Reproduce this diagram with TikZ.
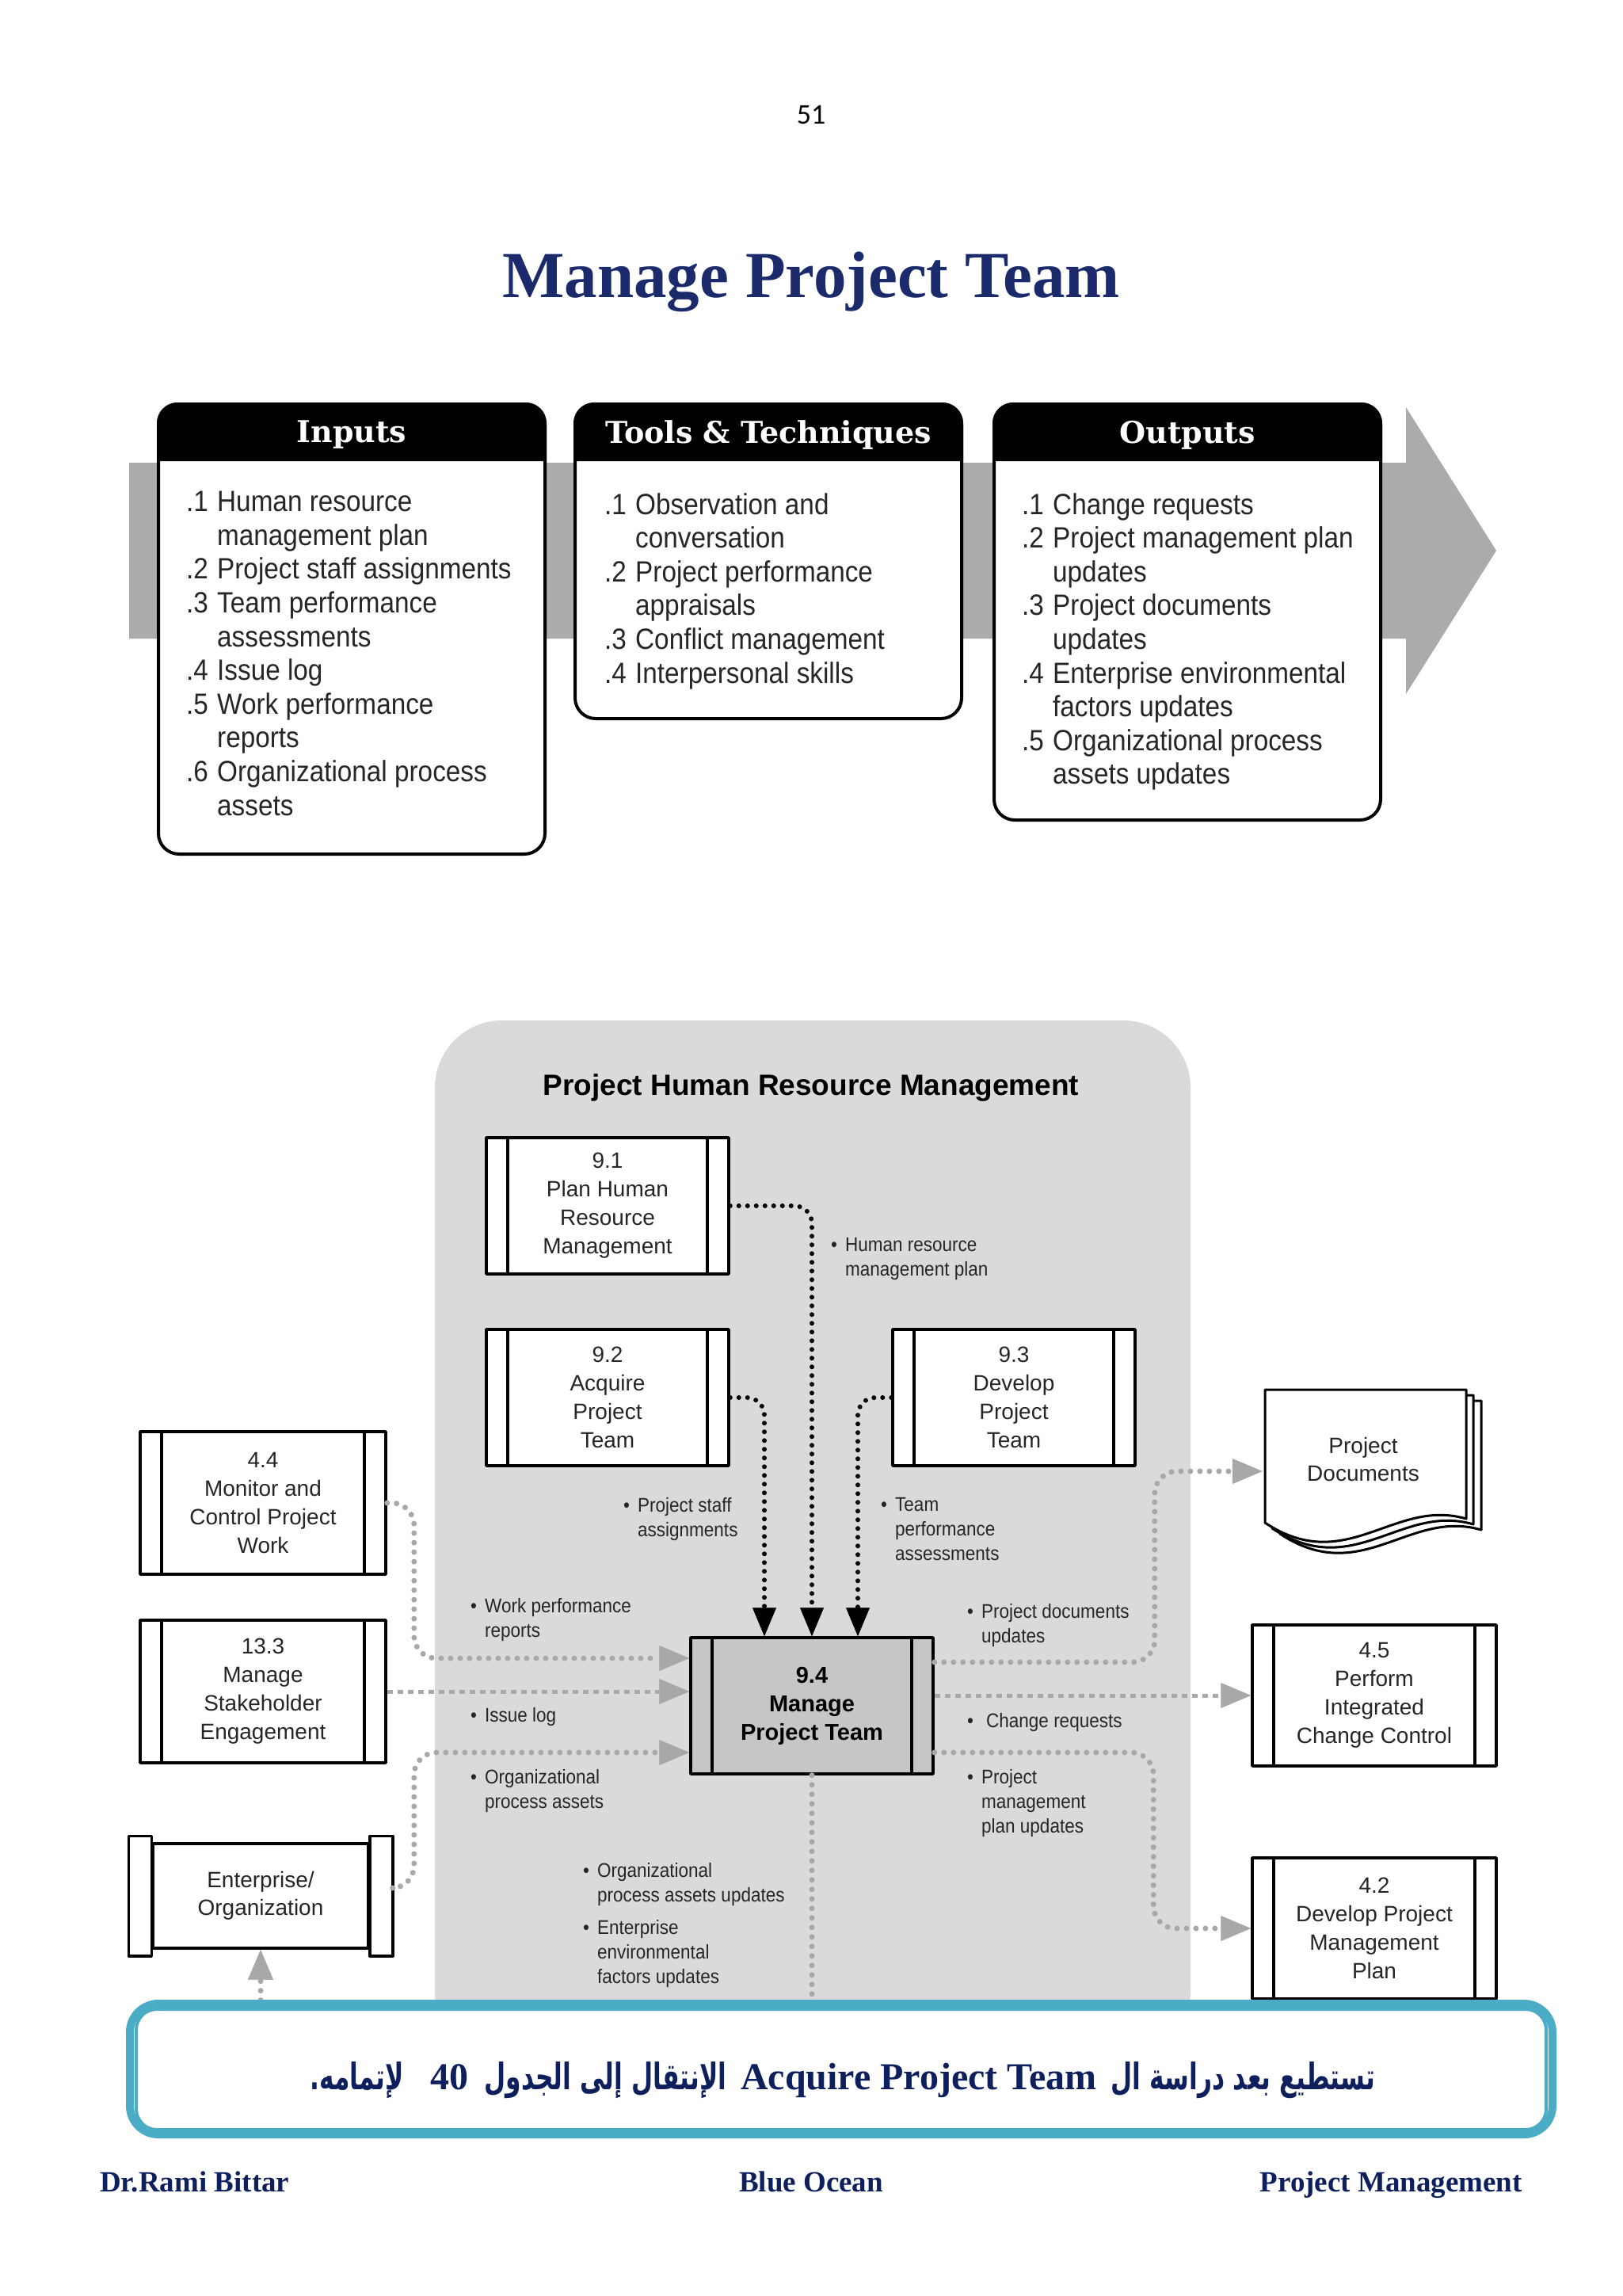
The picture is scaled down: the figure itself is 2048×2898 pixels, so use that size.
\documentclass[tikz,border=0pt]{standalone}
\usepackage{fontspec}
\setmainfont{Liberation Serif}
\newfontfamily\sansf{Liberation Sans}
\newfontfamily\condf[FakeStretch=0.9]{Liberation Sans}
\newfontfamily\slabf{DejaVu Serif}
\newfontfamily\arabicf[Script=Arabic,FakeStretch=0.68]{DejaVu Sans}
\newfontfamily\pagef{Carlito}
\TeXXeTstate=1
\usetikzlibrary{arrows.meta}
\definecolor{navy}{HTML}{1B2A6B}
\definecolor{navyb}{HTML}{0E1F5E}
\definecolor{bandgray}{HTML}{ABABAB}
\definecolor{panelgray}{HTML}{DADADA}
\definecolor{boxgray}{HTML}{C6C6C6}
\definecolor{linkgray}{HTML}{A8A8A8}
\definecolor{bannerblue}{HTML}{4BACC6}
\definecolor{txt}{HTML}{262626}
\newcommand\bul{\makebox[18pt][l]{•}}
\newcommand\myind{\hspace*{18pt}}
\newcommand\nm[1]{\makebox[39pt][l]{#1}}
\newcommand\cont{\hspace*{39pt}}
\begin{document}
\begin{tikzpicture}[x=1pt,y=-1pt,line join=round,
  procbox/.style={draw=black, line width=3.5pt, fill=white, minimum width=306pt, minimum height=172pt,
    inner sep=0pt, align=center, font=\sansf\fontsize{28}{36}\selectfont, text=txt,
    path picture={
      \draw[line width=3.5pt] ([xshift=27pt]path picture bounding box.north west) -- ([xshift=27pt]path picture bounding box.south west);
      \draw[line width=3.5pt] ([xshift=-27pt]path picture bounding box.north east) -- ([xshift=-27pt]path picture bounding box.south east);}},
  ittobox/.style={draw=black, line width=4pt, rounded corners=26pt, fill=white, inner sep=0pt},
  hdr/.style={font=\slabf\bfseries\fontsize{38}{42}\selectfont, text=white, inner sep=0pt},
  ittolist/.style={anchor=north west, inner sep=0pt, align=left, font=\condf\fontsize{37}{42.6}\selectfont, text=txt},
  lbl/.style={anchor=north west, inner sep=0pt, align=left, font=\condf\fontsize{25}{31}\selectfont, text=txt},
  blkdot/.style={draw=black, line width=6pt, line cap=round, dash pattern=on 0pt off 11pt, rounded corners=22pt,
    -{Triangle[width=30pt,length=36pt,line width=0.5pt]}},
  grydot/.style={draw=linkgray, line width=7pt, line cap=round, dash pattern=on 0pt off 12pt, rounded corners=28pt,
    -{Triangle[width=32pt,length=38pt,line width=0.5pt]}},
  grydash/.style={draw=linkgray, line width=5pt, dash pattern=on 7pt off 6pt,
    -{Triangle[width=32pt,length=38pt,line width=0.5pt]}},
  foot/.style={font=\bfseries\fontsize{37}{40}\selectfont, text=navyb, inner sep=0pt}
]
\useasboundingbox (0,0) rectangle (2048,2898);
\fill[white] (0,0) rectangle (2048,2898);

% page number and title
\node[font=\pagef\fontsize{36}{40}\selectfont, anchor=base, inner sep=0pt] (pnum) at (1024,157) {51};
\node[font=\bfseries\fontsize{83}{90}\selectfont, text=navy, anchor=base, inner sep=0pt] (title) at (1024,375) {Manage Project Team};

% ITTO band arrow
\fill[bandgray] (163,584) -- (1775,584) -- (1775,514) -- (1889,695) -- (1775,876) -- (1775,806) -- (163,806) -- cycle;

% ITTO boxes
\node[ittobox, minimum width=488pt, minimum height=568pt] (inbox) at (444,794) {};
\fill[black] ([shift={(0,74)}]inbox.north west) [rounded corners=26pt] -- (inbox.north west) -- (inbox.north east) [sharp corners] -- ([shift={(0,74)}]inbox.north east) -- cycle;
\node[hdr] (inhdr) at (444,549) {Inputs};

\node[ittobox, minimum width=488pt, minimum height=397pt] (tbox) at (970,708.5) {};
\fill[black] ([shift={(0,74)}]tbox.north west) [rounded corners=26pt] -- (tbox.north west) -- (tbox.north east) [sharp corners] -- ([shift={(0,74)}]tbox.north east) -- cycle;
\node[hdr] (thdr) at (970,549) {Tools \& Techniques};

\node[ittobox, minimum width=488pt, minimum height=525pt] (obox) at (1499,772.5) {};
\fill[black] ([shift={(0,74)}]obox.north west) [rounded corners=26pt] -- (obox.north west) -- (obox.north east) [sharp corners] -- ([shift={(0,74)}]obox.north east) -- cycle;
\node[hdr] (ohdr) at (1499,549) {Outputs};

\node[ittolist] (inlist) at (235,620) {\nm{.1}Human resource\\\cont management plan\\\nm{.2}Project staff assignments\\\nm{.3}Team performance\\\cont assessments\\\nm{.4}Issue log\\\nm{.5}Work performance\\\cont reports\\\nm{.6}Organizational process\\\cont assets};
\node[ittolist] (tlist) at (763,622) {\nm{.1}Observation and\\\cont conversation\\\nm{.2}Project performance\\\cont appraisals\\\nm{.3}Conflict management\\\nm{.4}Interpersonal skills};
\node[ittolist] (olist) at (1290,622) {\nm{.1}Change requests\\\nm{.2}Project management plan\\\cont updates\\\nm{.3}Project documents\\\cont updates\\\nm{.4}Enterprise environmental\\\cont factors updates\\\nm{.5}Organizational process\\\cont assets updates};

% panel
\fill[panelgray, rounded corners=85pt] (549,1288) rectangle (1503,2600);
\node[font=\sansf\bfseries\fontsize{37}{40}\selectfont, anchor=base, inner sep=0pt] (ptitle) at (1024,1382) {Project Human Resource Management};

% process boxes
\node[procbox] (p91) at (767,1522) {9.1\\Plan Human\\Resource\\Management};
\node[procbox] (p92) at (767,1764) {9.2\\Acquire\\Project\\Team};
\node[procbox] (p93) at (1280,1764) {9.3\\Develop\\Project\\Team};
\node[procbox, fill=boxgray, font=\sansf\bfseries\fontsize{29}{36}\selectfont, text=black] (p94) at (1025,2153) {9.4\\Manage\\Project Team};
\node[procbox, minimum width=310pt, minimum height=180pt] (p44) at (332,1897) {4.4\\Monitor and\\Control Project\\Work};
\node[procbox, minimum width=310pt, minimum height=180pt] (p133) at (332,2135) {13.3\\Manage\\Stakeholder\\Engagement};
\node[procbox, minimum width=308pt, minimum height=178pt] (p45) at (1735,2140) {4.5\\Perform\\Integrated\\Change Control};
\node[procbox, minimum width=308pt, minimum height=178pt] (p42) at (1735,2434) {4.2\\Develop Project\\Management\\Plan};

% enterprise/organization
\node[draw=black, line width=3.5pt, fill=white, minimum width=272pt, minimum height=132pt, inner sep=0pt, align=center,
  font=\sansf\fontsize{28}{35}\selectfont, text=txt] (ent) at (329,2393) {Enterprise/\\Organization};
\draw[line width=3.5pt, fill=white] ([shift={(-29,-8)}]ent.north west) rectangle ([shift={(0,8)}]ent.south west);
\draw[line width=3.5pt, fill=white] ([shift={(0,-8)}]ent.north east) rectangle ([shift={(29,8)}]ent.south east);

% project documents
\foreach \dx/\dy in {19/14, 9/7, 0/0} {
  \draw[line width=3pt, fill=white, shift={(\dx,\dy)}] (1597,1754) -- (1851,1754) -- (1851,1917)
    .. controls (1760,1890) and (1700,1990) .. (1597,1922) -- cycle;
}
\node[minimum width=254pt, inner sep=0pt, align=center, font=\sansf\fontsize{28}{35}\selectfont, text=txt] (docs) at (1721,1842) {Project\\Documents};

% black connectors
\draw[blkdot] (p91.east) -| (p94.north);
\draw[blkdot] (p92.east) -| ([xshift=-60pt]p94.north);
\draw[blkdot] (p93.west) -| ([xshift=58pt]p94.north);

% gray connectors
\draw[grydot] (p44.east) -- ++(34,0) |- ([shift={(0,-60)}]p94.west);
\draw[grydash] (p133.east) -- ([shift={(0,-18)}]p94.west);
\draw[grydot] ([shift={(29,-10)}]ent.east) -- ++(27,0) |- ([shift={(0,59)}]p94.west);
\draw[grydot] ([shift={(0,-55)}]p94.east) -| ([shift={(-136,15)}]docs.west) -- ([shift={(0,15)}]docs.west);
\draw[grydash] ([shift={(0,-13)}]p94.east) -- (p45.west);
\draw[grydot] ([shift={(0,59)}]p94.east) -| ([shift={(-123,0)}]p42.west) -- (p42.west);
\draw[grydot] (p94.south) -- ++(0,340) -| (ent.south);

% labels
\node[lbl] (l1) at (1049,1562) {\bul Human resource\\\myind management plan};
\node[lbl] (l2) at (787,1890) {\bul Project staff\\\myind assignments};
\node[lbl] (l3) at (1112,1890) {\bul Team\\\myind performance\\\myind assessments};
\node[lbl] (l4) at (594,2017) {\bul Work performance\\\myind reports};
\node[lbl] (l5) at (594,2155) {\bul Issue log};
\node[lbl] (l6) at (594,2233) {\bul Organizational\\\myind process assets};
\node[lbl] (l7) at (736,2351) {\bul Organizational\\\myind process assets updates};
\node[lbl] (l8) at (736,2423) {\bul Enterprise\\\myind environmental\\\myind factors updates};
\node[lbl] (l9) at (1221,2024) {\bul Project documents\\\myind updates};
\node[lbl] (l10) at (1221,2162) {\bul\hspace{6pt}Change requests};
\node[lbl] (l11) at (1221,2233) {\bul Project\\\myind management\\\myind plan updates};

% banner
\node[draw=bannerblue, line width=10pt, rounded corners=36pt, fill=white, minimum width=1796pt, minimum height=165pt, inner sep=0pt] (banner) at (1062,2611.5) {};
\draw[bannerblue, line width=4pt, rounded corners=26pt] ([shift={(13,12)}]banner.north west) rectangle ([shift={(-13,-11)}]banner.south east);
\node[text=navyb, inner sep=0pt] (bantext) at (1064,2626) {\arabicf\bfseries\fontsize{46}{50}\selectfont\beginR تستطيع بعد دراسة ال\hspace{18pt}\beginL{\rmfamily\bfseries\fontsize{48}{50}\selectfont Acquire Project Team}\endL{}\hspace{18pt}الإنتقال إلى الجدول\hspace{20pt}\beginL{\rmfamily\bfseries\fontsize{48}{50}\selectfont 40}\endL{}\hspace{34pt}لإتمامه.\endR};

% footer
\node[foot, anchor=base west] (f1) at (126,2766) {Dr.Rami Bittar};
\node[foot, anchor=base] (f2) at (1024,2766) {Blue Ocean};
\node[foot, anchor=base east] (f3) at (1922,2766) {Project Management};
\end{tikzpicture}
\end{document}
